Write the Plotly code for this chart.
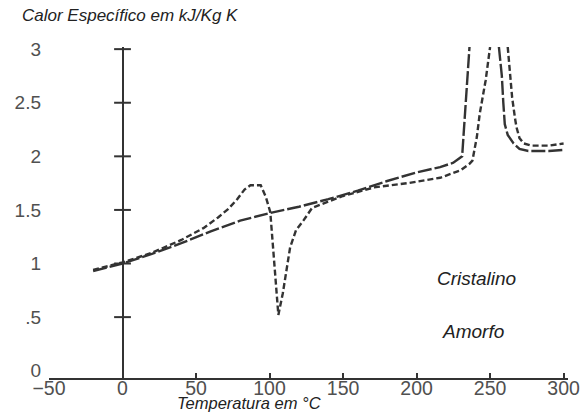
import plotly.graph_objects as go

# Specific heat vs temperature for crystalline and amorphous samples.
# None splits each curve where it runs off the top of the chart.
temp_cristalino = [-20, 0, 20, 40, 60, 80, 100, 120, 140, 160, 180, 200, 216, 225, 231,
                   233, 236, None, 256, 258, 259, 260, 262, 266, 270, 276, 290, 300]
cp_cristalino = [0.93, 1.00, 1.09, 1.19, 1.30, 1.40, 1.47, 1.53, 1.60, 1.68, 1.77, 1.85, 1.90, 1.94, 2.00,
                 2.40, 3.02, None, 3.02, 2.75, 2.50, 2.30, 2.20, 2.12, 2.07, 2.05, 2.05, 2.06]

temp_amorfo = [-20, 0, 20, 40, 55, 65, 72, 78, 83, 87, 94, 97.5, 100.5, 103, 106,
               109, 112, 114, 118, 123, 129, 150, 171, 194, 216, 230, 236, 238, 241,
               243, 247, 250, None, 262, 264, 265, 267, 268, 270, 273, 278, 290, 300]
cp_amorfo = [0.94, 1.01, 1.10, 1.22, 1.33, 1.43, 1.51, 1.60, 1.69, 1.73, 1.73, 1.62, 1.48, 1.00, 0.52,
             0.72, 1.00, 1.15, 1.31, 1.40, 1.52, 1.63, 1.71, 1.75, 1.80, 1.87, 1.93, 1.96, 2.18,
             2.40, 2.71, 3.02, None, 3.02, 2.70, 2.55, 2.35, 2.27, 2.17, 2.12, 2.10, 2.10, 2.12]

x_ticks = [-50, 0, 50, 100, 150, 200, 250, 300]
y_ticks = [0, 0.5, 1, 1.5, 2, 2.5, 3]
y_ticklabels = ["0", ".5", "1", "1.5", "2", "2.5", "3"]

ink = "#333333"
label_grey = "#505050"
font_family = "Liberation Sans, Arial, sans-serif"

fig = go.Figure()

fig.add_trace(go.Scatter(
    x=temp_cristalino, y=cp_cristalino, mode="lines", name="Cristalino",
    line=dict(color=ink, width=2.4, dash="14px,3px"), cliponaxis=False,
    connectgaps=False,
))
fig.add_trace(go.Scatter(
    x=temp_amorfo, y=cp_amorfo, mode="lines", name="Amorfo",
    line=dict(color=ink, width=2.4, dash="6px,3px"), cliponaxis=False,
    connectgaps=False,
))

# crossing tick marks on the vertical axis drawn at 0 °C
fig.add_trace(go.Scatter(
    x=[0] * (len(y_ticks) - 1), y=y_ticks[1:], mode="markers",
    marker=dict(symbol="line-ew", size=12, line=dict(color=ink, width=2)),
    hoverinfo="skip",
))

fig.update_layout(
    width=583, height=412,
    margin=dict(l=48.5, r=15, t=47, b=34),
    paper_bgcolor="white", plot_bgcolor="white",
    showlegend=False,
    font=dict(family=font_family, color=label_grey, size=18),
    xaxis=dict(
        range=[-50, 303], tickvals=x_ticks, showgrid=False, automargin=False,
        showline=True, linecolor=ink, linewidth=2,
        ticks="inside", ticklen=5, tickwidth=1.5, tickcolor=ink,
        zeroline=True, zerolinecolor=ink, zerolinewidth=2,
        ticklabelstandoff=-8,
        tickfont=dict(size=19.5, color=label_grey),
    ),
    yaxis=dict(
        range=[-0.068, 3.02], tickvals=y_ticks, ticktext=y_ticklabels,
        showgrid=False, showline=False, zeroline=False, ticks="", automargin=False,
        ticklabelstandoff=7, tickfont=dict(size=19, color=label_grey),
    ),
    annotations=[
        dict(text="<i>Calor Específico em kJ/Kg K</i>", xref="paper", yref="paper",
             x=-0.055, y=1, xanchor="left", yanchor="bottom", yshift=20, showarrow=False,
             font=dict(size=17, color="#222222")),
        dict(text="<i>Temperatura em °C</i>", xref="x", yref="paper",
             x=86, y=0, xanchor="center", yanchor="middle", yshift=-25, showarrow=False,
             font=dict(size=16.5, color="#222222")),
        dict(text="<i>Cristalino</i>", xref="x", yref="y", x=240.5, y=0.864,
             showarrow=False, font=dict(size=19, color="#222222")),
        dict(text="<i>Amorfo</i>", xref="x", yref="y", x=238.3, y=0.365,
             showarrow=False, font=dict(size=19, color="#222222")),
    ],
)

fig.write_html("out.html")
